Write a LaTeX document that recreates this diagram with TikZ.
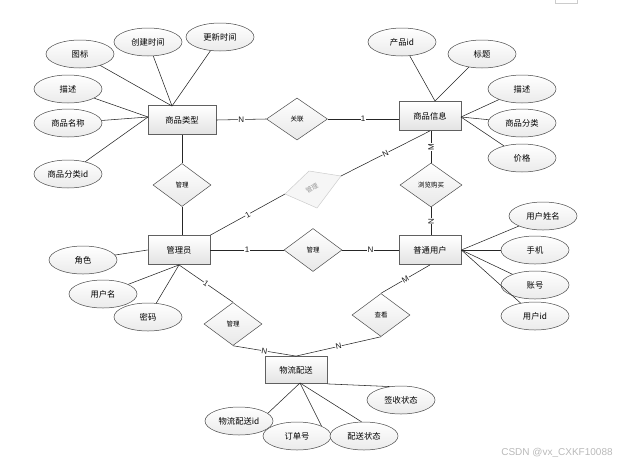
\documentclass[tikz,border=0pt]{standalone}
\usepackage{fontspec}
\newfontfamily\cjk{Noto Sans CJK SC}
\newfontfamily\lat{Liberation Sans}
\usetikzlibrary{shapes.geometric,calc}
\begin{document}
\begin{tikzpicture}[x=1pt,y=-1pt,
 ent/.style={draw=gray!75!black, line width=0.8pt, rectangle, top color=white, bottom color=gray!22,
   minimum width=62pt, minimum height=29pt, inner sep=0pt, font=\cjk\fontsize{8.3}{10}\selectfont},
 attr/.style={draw=gray!55!black, line width=0.5pt, ellipse, top color=white, bottom color=gray!16,
   minimum width=68pt, minimum height=28pt, inner sep=0pt, font=\cjk\fontsize{8.3}{10}\selectfont},
 rel/.style={draw=gray!60!black, line width=0.5pt, diamond, top color=white, bottom color=gray!18,
   minimum width=58pt, minimum height=43pt, inner sep=0pt, font=\cjk\fontsize{6.5}{8}\selectfont},
 ln/.style={draw=gray!30!black, line width=0.55pt},
 card/.style={font=\lat\fontsize{8}{9}\selectfont, fill=white, inner sep=0.4pt, text=gray!20!black},
]
\useasboundingbox (0,0) rectangle (624,464);
\draw[gray!40, line width=0.5pt] (555,-5) rectangle (577,3);

% entities
\node[ent, minimum width=68pt] (ct) at (182,120) {商品类型};
\node[ent] (gi) at (430,116) {商品信息};
\node[ent] (mg) at (179,250) {管理员};
\node[ent] (pu) at (430,250) {普通用户};
\node[ent, minimum height=27pt] (wl) at (296,370) {物流配送};

% relationships
\node[rel, minimum width=61pt, minimum height=42pt] (r1) at (297,119) {关联};
\node[rel] (r2) at (182,185) {管理};
\node[rel, minimum width=62pt, minimum height=44pt] (r3) at (431,185) {浏览购买};
\node[rel] (r4) at (313,250) {管理};
\node[rel] (r5) at (233,324) {管理};
\node[rel] (r6) at (381,315) {查看};

% grey skewed relationship
\coordinate (gL) at (285,194);
\coordinate (gT) at (309,171);
\coordinate (gR) at (341,176);
\coordinate (gB) at (317,208);
\draw[draw=gray!40, fill=gray!7, line width=0.5pt] (gL) -- (gT) -- (gR) -- (gB) -- cycle;
\node[text=gray!80, rotate=30, font=\cjk\fontsize{6.5}{8}\selectfont] (gtxt) at (312,188) {管理};

% attributes of 商品类型
\node[attr] (a1) at (80,54) {图标};
\node[attr] (a2) at (148,42) {创建时间};
\node[attr] (a3) at (220,37) {更新时间};
\node[attr] (a4) at (68,89) {描述};
\node[attr] (a5) at (68,123) {商品名称};
\node[attr] (a6) at (68,174) {商品分类id};
\coordinate (ctT) at (172,106);
\coordinate (ctL) at (148,117);
\draw[ln] (a1) -- (ctT);
\draw[ln] (a2) -- (ctT);
\draw[ln] (a3) -- (ctT);
\draw[ln] (a4) -- (ctL);
\draw[ln] (a5) -- (ctL);
\draw[ln] (a6) -- (ctL);

% attributes of 商品信息
\node[attr] (b1) at (402,42) {产品id};
\node[attr] (b2) at (482,54) {标题};
\node[attr] (b3) at (522,89) {描述};
\node[attr] (b4) at (522,123) {商品分类};
\node[attr] (b5) at (522,158) {价格};
\coordinate (giT) at (435,101);
\coordinate (giR) at (461,117);
\draw[ln] (b1) -- (giT);
\draw[ln] (b2) -- (giT);
\draw[ln] (b3) -- (giR);
\draw[ln] (b4) -- (giR);
\draw[ln] (b5) -- (giR);

% attributes of 普通用户
\node[attr] (c1) at (543,216) {用户姓名};
\node[attr] (c2) at (535,250) {手机};
\node[attr] (c3) at (535,285) {账号};
\node[attr] (c4) at (535,316) {用户id};
\draw[ln] (c1) -- (pu.east);
\draw[ln] (c2) -- (pu.east);
\draw[ln] (c3) -- (pu.east);
\draw[ln] (c4) -- (pu.east);

% attributes of 管理员
\node[attr] (d1) at (83,260) {角色};
\node[attr] (d2) at (103,294) {用户名};
\node[attr] (d3) at (148,317) {密码};
\draw[ln] (d1) -- (mg.west);
\draw[ln] (d2) -- (mg.south);
\draw[ln] (d3) -- (mg.south);

% attributes of 物流配送
\node[attr] (e1) at (239,421) {物流配送id};
\node[attr] (e2) at (297,436) {订单号};
\node[attr] (e3) at (364,436) {配送状态};
\node[attr] (e4) at (401,400) {签收状态};
\coordinate (wlB) at (300,383);
\draw[ln] (wlB) -- (e1.15);
\draw[ln] (wlB) -- (e2.22);
\draw[ln] (wlB) -- (e3.100);
\draw[ln] (wl.south east) -- (e4.130);

% relationship connectors
\draw[ln] (ct.east) -- node[card]{N} (r1.west);
\draw[ln] (r1.east) -- node[card]{1} (r1.east -| gi.west);
\draw[ln] (ct.south) -- (r2.north);
\draw[ln] (r2.south) -- (r2.south |- mg.north);
\draw[ln] (mg.north east) -- node[card, sloped]{1} (gL);
\draw[ln] (gR) -- node[card, sloped]{N} (gi.south);
\draw[ln] (r3.north |- gi.south) -- node[card, rotate=90]{M} (r3.north);
\draw[ln] (r3.south) -- node[card, rotate=90]{N} (r3.south |- pu.north);
\draw[ln] (mg.east) -- node[card]{1} (r4.west);
\draw[ln] (r4.east) -- node[card]{N} (pu.west);
\draw[ln] (mg.south) -- node[card, sloped]{1} (r5.north);
\draw[ln] (r5.south) -- node[card, sloped]{N} (wl.north);
\draw[ln] (pu.south) -- node[card, sloped]{M} (r6.north);
\draw[ln] (r6.south) -- node[card, sloped]{N} (wl.north);

% watermark
\node[font=\lat\fontsize{10}{12}\selectfont, text=gray!55] (wm) at (557,453) {CSDN @vx\_CXKF10088};
\end{tikzpicture}
\end{document}
